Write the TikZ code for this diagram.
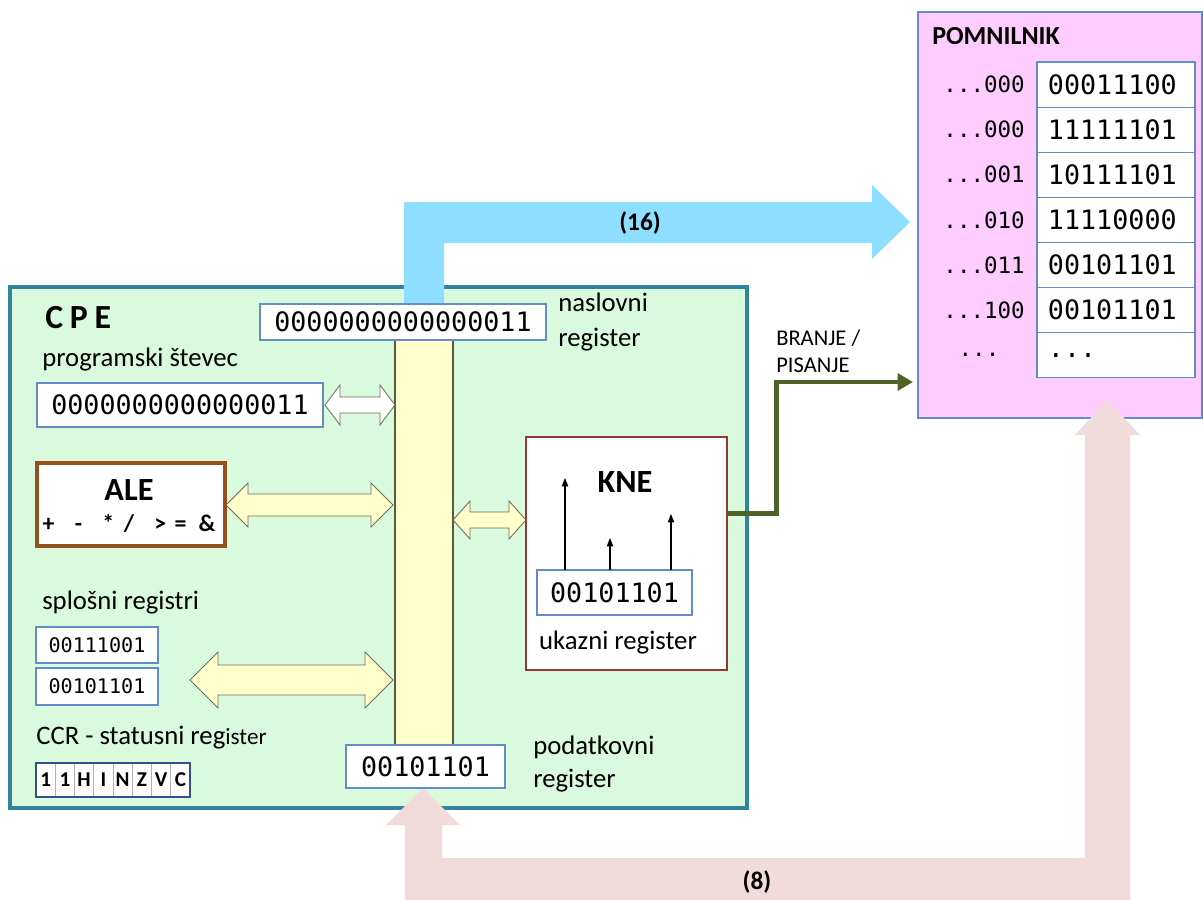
\documentclass[tikz,border=0pt]{standalone}
\usepackage{fontspec}
\setmainfont{Carlito}
\newfontfamily\monof{DejaVu Sans Mono}
\usetikzlibrary{arrows.meta}
\definecolor{cpefill}{RGB}{218,250,222}
\definecolor{cpeborder}{RGB}{49,132,155}
\definecolor{regborder}{RGB}{100,140,200}
\definecolor{busfill}{RGB}{255,255,204}
\definecolor{busline}{RGB}{90,90,70}
\definecolor{blueb}{RGB}{142,223,255}
\definecolor{pinkb}{RGB}{242,220,219}
\definecolor{memfill}{RGB}{255,204,255}
\definecolor{aleborder}{RGB}{150,80,30}
\definecolor{kneborder}{RGB}{150,55,55}
\definecolor{olivegr}{RGB}{79,98,40}
\definecolor{ccrborder}{RGB}{50,80,140}
\definecolor{arrline}{RGB}{110,110,90}
% name, x1, y1, x2, y2, style, text
\newcommand\bx[7]{\node[#6, minimum width={(#4-#2)*0.025cm}, minimum height={(#5-#3)*0.025cm}] (#1) at ({(#2+#4)/2},{(#3+#5)/2}) {#7};}
% x1, x2, yc, half shaft, half head, head length, style
\newcommand\dbl[7]{\draw[#7] (#1,#3) -- (#1+#6,#3-#5) -- (#1+#6,#3-#4) -- (#2-#6,#3-#4) -- (#2-#6,#3-#5) -- (#2,#3) -- (#2-#6,#3+#5) -- (#2-#6,#3+#4) -- (#1+#6,#3+#4) -- (#1+#6,#3+#5) -- cycle;}
\newcommand\memrow[3]{%
  \node[memcell] (m#1) at (1116,{62+45.1*(#1-0.5)}) {#3};
  \node[memaddr] (a#1) at (1025,{62+45.1*(#1-0.5)}) {#2};}
\begin{document}
\begin{tikzpicture}[x=0.025cm,y=-0.025cm,
  reg/.style={draw=regborder, line width=0.8pt, fill=white, inner sep=0, outer sep=0},
  mono/.style={font=\monof\fontsize{19}{22}\selectfont},
  lbl/.style={inner sep=0, anchor=west, font=\fontsize{19}{22}\selectfont},
  memcell/.style={draw=regborder, line width=0.8pt, fill=white, minimum width=3.95cm, minimum height=1.1275cm, text width=3.4cm, align=left, inner xsep=0.275cm, inner ysep=0, font=\monof\fontsize{19}{22}\selectfont},
  memaddr/.style={anchor=east, inner sep=0, font=\monof\fontsize{16}{20}\selectfont},
  ccrcell/.style={draw=gray!60, line width=0.5pt, fill=white, minimum width=0.48125cm, minimum height=0.85cm, inner sep=0, font=\bfseries\fontsize{15}{17}\selectfont},
  ptr/.style={line width=0.8pt, -{Triangle[length=6pt,width=4.5pt]}},
  bold/.style={inner sep=0, font=\bfseries\fontsize{18}{21}\selectfont}]
\useasboundingbox (0,0) rectangle (1203,900);
% main boxes
\bx{cpe}{10}{287}{747}{808}{draw=cpeborder, line width=2.8pt, fill=cpefill}{}
\bx{mem}{918}{12}{1202}{418}{draw=regborder, line width=0.8pt, fill=memfill}{}
% pink data bus (8)
\fill[pinkb] (423,788) -- (460,825) -- (442,825) -- (442,858) -- (1085,858) -- (1085,435) -- (1075,435) -- (1107,400) -- (1140,435) -- (1130,435) -- (1130,900) -- (405,900) -- (405,825) -- (386,825) -- cycle;
\node[bold] (w8) at (757,882) {(8)};
% blue address bus (16)
\fill[blueb] (404,304) -- (404,202) -- (872,202) -- (872,185) -- (910,222) -- (872,259) -- (872,243) -- (444,243) -- (444,304) -- cycle;
\node[bold] (w16) at (640,223) {(16)};
% internal bus
\bx{bus}{395}{338}{453}{746}{draw=busline, line width=0.9pt, fill=busfill}{}
% CPE labels
\node[inner sep=0, anchor=west, font=\bfseries\fontsize{24}{28}\selectfont] (cpet) at (45,318) {C\hspace{0.2em}P\hspace{0.2em}E};
\node[lbl] (pcl) at (42,360) {programski števec};
\bx{adr}{260}{304}{546}{340}{reg, mono}{0000000000000011}
\node[lbl, align=left, font=\fontsize{19}{25}\selectfont] (adrl) at (558,322) {naslovni\\register};
\bx{pc}{37}{383}{323}{427}{reg, mono}{0000000000000011}
\dbl{325}{395}{405}{8}{20}{15}{draw=arrline, line width=0.6pt, fill=white}
% ALE
\bx{ale}{37}{463}{225}{546}{draw=aleborder, line width=2.2pt, fill=white}{}
\node[inner sep=0, font=\bfseries\fontsize{23}{26}\selectfont] (alet) at (129,490) {ALE};
\node[inner sep=0, font=\bfseries\fontsize{17}{20}\selectfont] (aleo) at (129,523) {+\hspace{0.85em}-\hspace{0.85em}*\hspace{0.4em}/\hspace{0.85em}>\hspace{0.35em}=\hspace{0.5em}\&};
\dbl{226}{393}{505}{11}{22}{22}{draw=arrline, line width=0.6pt, fill=busfill}
% KNE
\bx{kne}{526}{437}{727}{670}{draw=kneborder, line width=2pt, fill=white}{}
\node[inner sep=0, font=\bfseries\fontsize{23}{26}\selectfont] (knet) at (625,482) {KNE};
\dbl{453}{526}{520}{8}{19}{17}{draw=arrline, line width=0.6pt, fill=busfill}
\bx{ur}{537}{570}{692}{615}{reg, mono}{00101101}
\node[inner sep=0, font=\fontsize{19}{22}\selectfont] (url) at (618,643) {ukazni register};
\coordinate (k1) at (565,478);
\coordinate (k2) at (610,538);
\coordinate (k3) at (671,514);
\draw[ptr] (k1 |- ur.north) -- (k1);
\draw[ptr] (k2 |- ur.north) -- (k2);
\draw[ptr] (k3 |- ur.north) -- (k3);
% read/write control
\coordinate (rw) at (913,382);
\draw[olivegr, line width=3.5pt, -{Triangle[length=11pt,width=12pt]}] ([yshift=1.01cm]kne.east) -- ++(48,0) |- (rw);
\node[inner sep=0, anchor=west, align=left, font=\fontsize{16}{19}\selectfont] (rwl) at (776,351) {BRANJE /\\PISANJE};
% general registers
\node[lbl] (spl) at (42,603) {splošni registri};
\bx{r1}{36}{627}{158}{663}{reg, font=\monof\fontsize{14.3}{17}\selectfont}{00111001}
\bx{r2}{36}{668}{158}{705}{reg, font=\monof\fontsize{14.3}{17}\selectfont}{00101101}
\dbl{190}{393}{680}{15}{28}{28}{draw=arrline, line width=0.6pt, fill=busfill}
% CCR
\node[lbl] (ccrl) at (36,738) {CCR - statusni reg{\fontsize{16.5}{19}\selectfont ister}};
\foreach \t [count=\i] in {1,1,H,I,N,Z,V,C}
  \node[ccrcell] (c\i) at ({36+19.25*(\i-0.5)},780) {\t};
\bx{ccr}{36}{763}{190}{797}{draw=ccrborder, line width=1.8pt}{}
% data register
\bx{dr}{346}{745}{505}{788}{reg, mono}{00101101}
\node[lbl, align=left, font=\fontsize{19}{23}\selectfont] (drl) at (533,764) {podatkovni\\register};
% memory
\node[inner sep=0, anchor=west, font=\bfseries\fontsize{18.5}{21}\selectfont] (memt) at (932,36) {POMNILNIK};
\memrow{1}{...000}{00011100}
\memrow{2}{...000}{11111101}
\memrow{3}{...001}{10111101}
\memrow{4}{...010}{11110000}
\memrow{5}{...011}{00101101}
\memrow{6}{...100}{00101101}
\node[memcell] (m7) at (1116,{62+45.1*6.5}) {...};
\node[inner sep=0, font=\monof\fontsize{16}{20}\selectfont] (a7) at (979,{62+45.1*6.5}) {...};
\end{tikzpicture}
\end{document}
